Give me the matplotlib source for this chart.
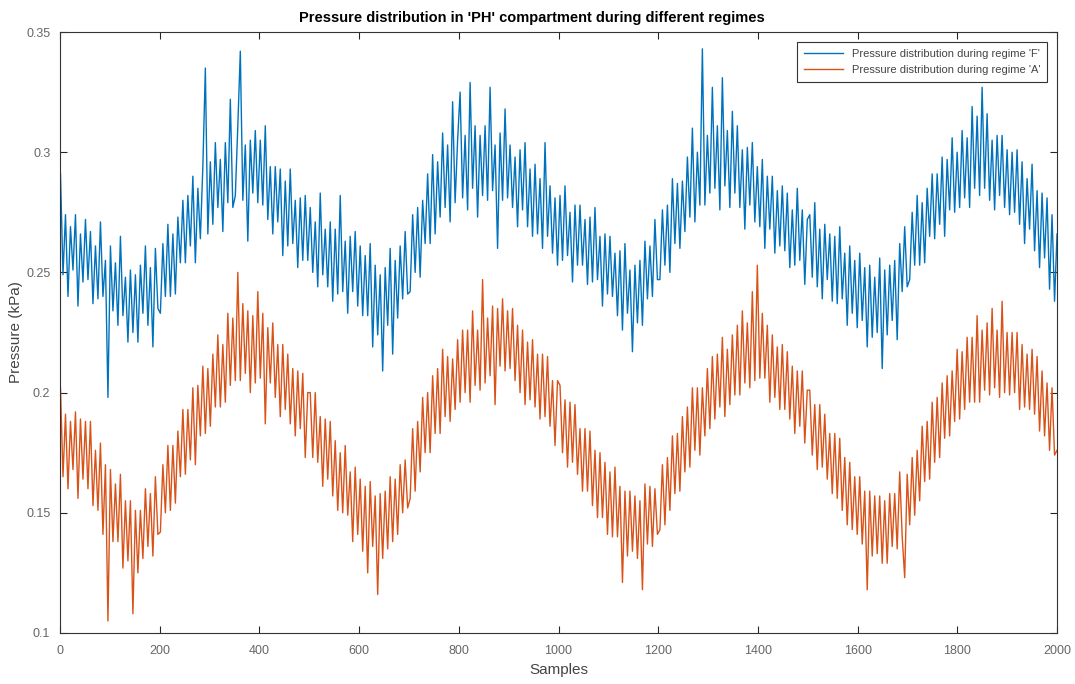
import numpy as np
import matplotlib
matplotlib.use("Agg")
import matplotlib.pyplot as plt

plt.rcParams["font.family"] = ["Liberation Sans Narrow", "Liberation Sans", "DejaVu Sans"]

# pressure readings, one value every 5 samples
pressure_F = [
    0.291, 0.249, 0.274, 0.240, 0.269, 0.251, 0.274, 0.236, 0.266, 0.246,
    0.272, 0.247, 0.267, 0.237, 0.261, 0.239, 0.271, 0.240, 0.255, 0.198,
    0.261, 0.234, 0.254, 0.228, 0.265, 0.232, 0.248, 0.221, 0.251, 0.225,
    0.249, 0.221, 0.253, 0.233, 0.261, 0.228, 0.252, 0.219, 0.260, 0.235,
    0.233, 0.262, 0.240, 0.270, 0.240, 0.266, 0.241, 0.273, 0.254, 0.280,
    0.254, 0.282, 0.261, 0.290, 0.254, 0.285, 0.264, 0.294, 0.335, 0.266,
    0.296, 0.270, 0.304, 0.277, 0.297, 0.267, 0.304, 0.279, 0.322, 0.277,
    0.282, 0.311, 0.342, 0.280, 0.303, 0.263, 0.305, 0.283, 0.309, 0.279,
    0.305, 0.278, 0.311, 0.272, 0.294, 0.266, 0.294, 0.271, 0.293, 0.257,
    0.288, 0.261, 0.293, 0.262, 0.280, 0.252, 0.281, 0.255, 0.282, 0.255,
    0.277, 0.250, 0.271, 0.244, 0.283, 0.249, 0.268, 0.244, 0.271, 0.238,
    0.268, 0.241, 0.282, 0.242, 0.263, 0.233, 0.265, 0.242, 0.267, 0.236,
    0.261, 0.232, 0.257, 0.232, 0.262, 0.219, 0.253, 0.224, 0.249, 0.209,
    0.252, 0.228, 0.260, 0.216, 0.255, 0.231, 0.261, 0.239, 0.267, 0.241,
    0.242, 0.274, 0.250, 0.277, 0.248, 0.280, 0.262, 0.291, 0.262, 0.299,
    0.266, 0.296, 0.273, 0.308, 0.277, 0.303, 0.271, 0.321, 0.279, 0.305,
    0.325, 0.281, 0.307, 0.276, 0.329, 0.285, 0.311, 0.273, 0.307, 0.282,
    0.311, 0.280, 0.327, 0.284, 0.303, 0.260, 0.308, 0.280, 0.318, 0.281,
    0.303, 0.277, 0.298, 0.269, 0.301, 0.276, 0.304, 0.269, 0.293, 0.265,
    0.295, 0.266, 0.289, 0.260, 0.304, 0.265, 0.286, 0.258, 0.281, 0.253,
    0.282, 0.255, 0.286, 0.257, 0.275, 0.246, 0.278, 0.253, 0.278, 0.253,
    0.272, 0.245, 0.273, 0.246, 0.277, 0.247, 0.265, 0.236, 0.266, 0.241,
    0.265, 0.240, 0.258, 0.232, 0.259, 0.226, 0.262, 0.233, 0.251, 0.217,
    0.253, 0.229, 0.255, 0.228, 0.263, 0.239, 0.261, 0.240, 0.272, 0.247,
    0.247, 0.276, 0.253, 0.278, 0.250, 0.289, 0.262, 0.287, 0.260, 0.288,
    0.267, 0.298, 0.273, 0.310, 0.271, 0.300, 0.278, 0.343, 0.278, 0.307,
    0.283, 0.327, 0.285, 0.311, 0.276, 0.331, 0.286, 0.309, 0.277, 0.317,
    0.283, 0.311, 0.277, 0.301, 0.268, 0.302, 0.278, 0.304, 0.271, 0.294,
    0.269, 0.297, 0.260, 0.290, 0.268, 0.290, 0.258, 0.284, 0.261, 0.286,
    0.259, 0.283, 0.252, 0.276, 0.253, 0.285, 0.255, 0.276, 0.245, 0.272,
    0.274, 0.248, 0.279, 0.244, 0.268, 0.239, 0.270, 0.247, 0.266, 0.238,
    0.265, 0.237, 0.269, 0.239, 0.258, 0.228, 0.261, 0.233, 0.255, 0.227,
    0.258, 0.230, 0.252, 0.219, 0.253, 0.223, 0.248, 0.225, 0.256, 0.210,
    0.251, 0.224, 0.253, 0.230, 0.255, 0.222, 0.262, 0.242, 0.269, 0.244,
    0.247, 0.275, 0.253, 0.282, 0.253, 0.279, 0.254, 0.285, 0.265, 0.291,
    0.264, 0.291, 0.270, 0.298, 0.265, 0.297, 0.276, 0.306, 0.275, 0.300,
    0.277, 0.309, 0.281, 0.306, 0.277, 0.319, 0.285, 0.315, 0.282, 0.327,
    0.285, 0.316, 0.280, 0.305, 0.276, 0.307, 0.282, 0.307, 0.277, 0.301,
    0.274, 0.300, 0.275, 0.301, 0.270, 0.296, 0.262, 0.289, 0.268, 0.295,
    0.259, 0.284, 0.252, 0.283, 0.256, 0.281, 0.243, 0.274, 0.238, 0.266,
]

pressure_A = [
    0.202, 0.165, 0.191, 0.160, 0.188, 0.168, 0.192, 0.156, 0.189, 0.164,
    0.188, 0.160, 0.188, 0.153, 0.176, 0.151, 0.179, 0.141, 0.170, 0.105,
    0.168, 0.138, 0.162, 0.138, 0.166, 0.127, 0.155, 0.130, 0.155, 0.108,
    0.151, 0.125, 0.151, 0.131, 0.160, 0.136, 0.158, 0.132, 0.165, 0.141,
    0.142, 0.170, 0.150, 0.178, 0.151, 0.178, 0.154, 0.184, 0.165, 0.193,
    0.166, 0.193, 0.172, 0.202, 0.170, 0.203, 0.182, 0.211, 0.183, 0.210,
    0.186, 0.216, 0.194, 0.224, 0.194, 0.220, 0.196, 0.233, 0.203, 0.231,
    0.205, 0.250, 0.205, 0.237, 0.208, 0.234, 0.200, 0.232, 0.204, 0.242,
    0.206, 0.233, 0.187, 0.227, 0.204, 0.229, 0.198, 0.220, 0.190, 0.220,
    0.193, 0.216, 0.187, 0.210, 0.182, 0.209, 0.185, 0.208, 0.173, 0.200,
    0.200, 0.173, 0.200, 0.171, 0.190, 0.161, 0.189, 0.164, 0.188, 0.157,
    0.180, 0.151, 0.175, 0.150, 0.178, 0.149, 0.167, 0.138, 0.169, 0.141,
    0.164, 0.134, 0.161, 0.125, 0.163, 0.136, 0.157, 0.116, 0.158, 0.131,
    0.159, 0.135, 0.165, 0.138, 0.164, 0.141, 0.170, 0.150, 0.172, 0.152,
    0.156, 0.185, 0.159, 0.188, 0.167, 0.198, 0.175, 0.200, 0.175, 0.207,
    0.183, 0.210, 0.183, 0.218, 0.190, 0.215, 0.188, 0.214, 0.193, 0.222,
    0.196, 0.226, 0.200, 0.226, 0.196, 0.234, 0.203, 0.226, 0.201, 0.247,
    0.204, 0.231, 0.207, 0.236, 0.195, 0.235, 0.211, 0.239, 0.209, 0.234,
    0.210, 0.235, 0.205, 0.228, 0.200, 0.226, 0.195, 0.221, 0.197, 0.222,
    0.194, 0.216, 0.189, 0.216, 0.190, 0.215, 0.186, 0.205, 0.178, 0.205,
    0.203, 0.175, 0.197, 0.169, 0.196, 0.171, 0.195, 0.166, 0.185, 0.159,
    0.185, 0.159, 0.184, 0.153, 0.176, 0.148, 0.175, 0.148, 0.171, 0.141,
    0.167, 0.140, 0.169, 0.140, 0.161, 0.121, 0.159, 0.132, 0.159, 0.134,
    0.157, 0.131, 0.155, 0.118, 0.162, 0.137, 0.161, 0.136, 0.160, 0.141,
    0.143, 0.170, 0.145, 0.173, 0.151, 0.182, 0.158, 0.183, 0.159, 0.190,
    0.167, 0.194, 0.169, 0.202, 0.176, 0.202, 0.174, 0.202, 0.182, 0.210,
    0.185, 0.215, 0.189, 0.216, 0.194, 0.223, 0.190, 0.218, 0.195, 0.224,
    0.199, 0.228, 0.199, 0.234, 0.204, 0.229, 0.202, 0.242, 0.205, 0.253,
    0.206, 0.233, 0.206, 0.228, 0.196, 0.224, 0.198, 0.219, 0.193, 0.220,
    0.193, 0.217, 0.189, 0.211, 0.183, 0.209, 0.186, 0.209, 0.179, 0.201,
    0.201, 0.174, 0.195, 0.168, 0.195, 0.169, 0.191, 0.164, 0.183, 0.158,
    0.183, 0.156, 0.181, 0.151, 0.173, 0.145, 0.171, 0.143, 0.165, 0.141,
    0.165, 0.137, 0.159, 0.118, 0.159, 0.132, 0.157, 0.133, 0.157, 0.129,
    0.155, 0.129, 0.158, 0.136, 0.158, 0.135, 0.167, 0.140, 0.123, 0.166,
    0.145, 0.173, 0.149, 0.176, 0.155, 0.186, 0.163, 0.188, 0.164, 0.196,
    0.171, 0.198, 0.173, 0.204, 0.181, 0.207, 0.182, 0.209, 0.188, 0.218,
    0.189, 0.217, 0.193, 0.223, 0.196, 0.223, 0.196, 0.232, 0.196, 0.226,
    0.201, 0.229, 0.199, 0.235, 0.202, 0.226, 0.198, 0.238, 0.200, 0.225,
    0.199, 0.225, 0.200, 0.225, 0.193, 0.220, 0.194, 0.216, 0.193, 0.218,
    0.191, 0.215, 0.184, 0.209, 0.182, 0.204, 0.176, 0.202, 0.174, 0.176,
]

samples = np.linspace(1, 2000, len(pressure_F))
x_ticks = [0, 200, 400, 600, 800, 1000, 1200, 1400, 1600, 1800, 2000]
y_ticks = [0.1, 0.15, 0.2, 0.25, 0.3, 0.35]
y_labels = ["0.1", "0.15", "0.2", "0.25", "0.3", "0.35"]

fig = plt.figure(figsize=(10.75, 6.84), dpi=100, facecolor="w")
ax = fig.add_axes([0.0558, 0.0746, 0.9275, 0.8786])

ax.plot(samples, pressure_F, color="#0072BD", lw=1.0,
        label="Pressure distribution during regime 'F'")
ax.plot(samples, pressure_A, color="#D95319", lw=1.0,
        label="Pressure distribution during regime 'A'")

ax.set_xlim(0, 2000)
ax.set_ylim(0.1, 0.35)
ax.set_xticks(x_ticks)
ax.set_yticks(y_ticks)
ax.set_yticklabels(y_labels)
ax.tick_params(direction="in", top=True, right=True, length=5, width=0.8,
               labelsize=9, colors="#262626", labelcolor="#666666")
ax.tick_params(axis="x", pad=9)
ax.tick_params(axis="y", pad=7)
for s in ax.spines.values():
    s.set_color("#333333")
    s.set_linewidth(0.8)

ax.set_title("Pressure distribution in 'PH' compartment during different regimes",
             fontsize=10.5, fontweight="bold", pad=7, x=0.473)
ax.set_xlabel("Samples", fontsize=11, color="#444444", labelpad=4)
ax.set_ylabel("Pressure (kPa)", fontsize=11, color="#444444", labelpad=2)

leg = ax.legend(loc="upper right", fontsize=8, handlelength=3.5,
                fancybox=False, framealpha=1, edgecolor="#333333",
                borderaxespad=0.9, borderpad=0.6, labelspacing=0.6)
leg.get_frame().set_linewidth(0.8)
for t in leg.get_texts():
    t.set_color("#444444")

plt.savefig("out.png", dpi=100)
